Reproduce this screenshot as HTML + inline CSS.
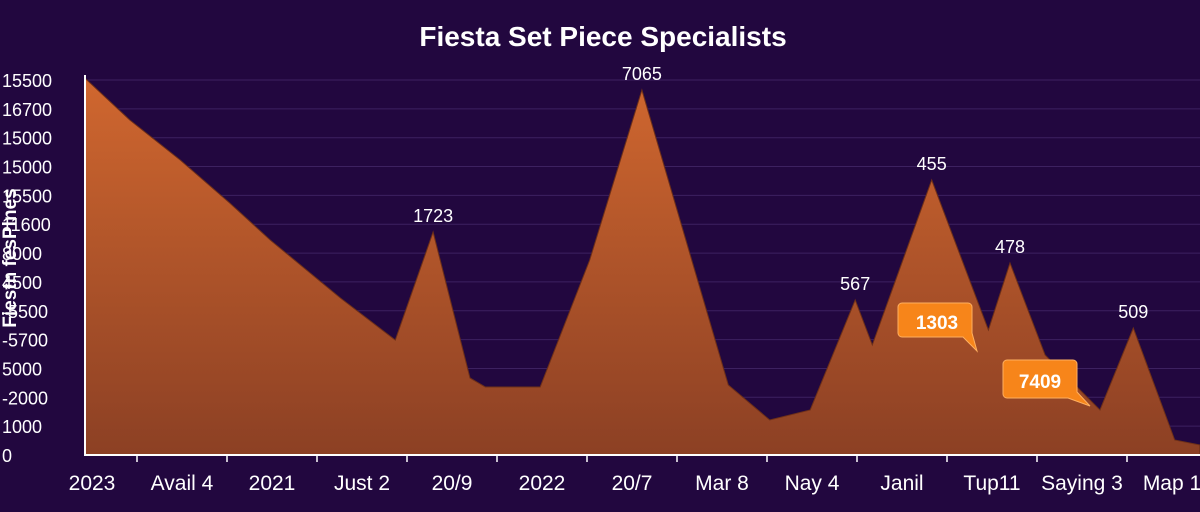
<!DOCTYPE html>
<html><head><meta charset="utf-8"><style>
html,body{margin:0;padding:0;background:#22073f;}
svg{display:block;font-family:"Liberation Sans",sans-serif;}
</style></head><body>
<svg id="chart" width="1200" height="512" xmlns="http://www.w3.org/2000/svg">
<defs>
<linearGradient id="ag" x1="0" y1="0" x2="0" y2="1">
<stop offset="0" stop-color="#d0672f"/><stop offset="1" stop-color="#8c4024"/>
</linearGradient>
</defs>
<rect width="1200" height="512" fill="#22073f"/>
<text x="603" y="46" text-anchor="middle" font-size="28" font-weight="bold" fill="#fff">Fiesta Set Piece Specialists</text>
<text transform="translate(16,258) rotate(-90)" text-anchor="middle" font-size="19" font-weight="bold" fill="#fff">Fiestn fesPlnes</text>
<g id="grid"></g><g id="area"></g><g id="axes"></g><g id="labels"></g>
<g>
<path d="M902,303 h66 a4,4 0 0 1 4,4 v26 l5,18 l-14,-14 h-61 a4,4 0 0 1 -4,-4 v-26 a4,4 0 0 1 4,-4z" fill="#f7851a" stroke="#ffb060"/>
<text x="937" y="329" text-anchor="middle" font-size="19" font-weight="bold" fill="#fff">1303</text>
</g>
<g>
<path d="M1007,360 h66 a4,4 0 0 1 4,4 v28 l13,14 l-22,-8 h-61 a4,4 0 0 1 -4,-4 v-30 a4,4 0 0 1 4,-4z" fill="#f7851a" stroke="#ffb060"/>
<text x="1040" y="388" text-anchor="middle" font-size="19" font-weight="bold" fill="#fff">7409</text>
</g>
</svg>
<script>
const xs=[-0.08,0.42,0.98,1.53,1.98,2.76,3.37,3.79,4.2,4.37,4.98,5.53,6.11,7.07,7.53,7.98,8.48,8.67,9.33,9.96,10.2,10.59,11.2,11.57,12.03,12.31];
const vals=[15583,13847,12193,10416,8887,6489,4753,9217,3183,2811,2811,8060,15087,2893,1447,1860,6407,4547,11367,5167,7936,4133,1860,5249,620,413];
const xLabels=["2023","Avail 4","2021","Just 2","20/9","2022","20/7","Mar 8","Nay 4","Janil","Tup11","Saying 3","Map 1"];
const yLabels=["0","1000","-2000","5000","-5700","-5500","4500","8000","11600","15500","15000","15000","16700","15500"];
const peakIdx=[7,12,16,18,20,23];
const peakText=["1723","7065","567","455","478","509"];
const NS="http://www.w3.org/2000/svg";
const X=u=>92+u*90, Y=v=>455-v/15500*375;
function mk(t,a,p){const e=document.createElementNS(NS,t);for(const k in a)e.setAttribute(k,a[k]);p.appendChild(e);return e;}
const grid=document.getElementById('grid'),axes=document.getElementById('axes'),lab=document.getElementById('labels'),area=document.getElementById('area');
yLabels.forEach((l,i)=>{const y=455-i*375/13;
 const g=mk('line',{x1:85,x2:1200,y1:y,y2:y,stroke:'#3d2160','stroke-width':1},grid);
 
 
 const t=mk('text',{x:2,y:y+7,'font-size':18,fill:'#fff'},axes);t.textContent=l;
 
 
});
let d='M'+X(xs[0])+','+Y(0);
xs.forEach((u,i)=>d+=' L'+X(u)+','+Y(vals[i]));
d+=' L'+X(xs[xs.length-1])+','+Y(0)+' Z';
const p=mk('path',{d:d,fill:'url(#ag)',stroke:'#6e3018','stroke-width':1},area);


const ax=mk('path',{d:'M85,75 V455 H1200',stroke:'#fff','stroke-width':2,fill:'none'},axes);


xLabels.forEach((l,i)=>{const x=X(i);
 const tk=mk('line',{x1:x+45,x2:x+45,y1:455,y2:462,stroke:'#fff','stroke-width':1.5},axes);
 
 
 const t=mk('text',{x:x,y:490,'font-size':21,fill:'#fff','text-anchor':'middle'},axes);t.textContent=l;
 
 
});
peakIdx.forEach((k,i)=>{const t=mk('text',{x:X(xs[k]),y:Y(vals[k])-10,'font-size':18,fill:'#fff','text-anchor':'middle'},lab);t.textContent=peakText[i];
 
 
});
</script>
</body></html>
